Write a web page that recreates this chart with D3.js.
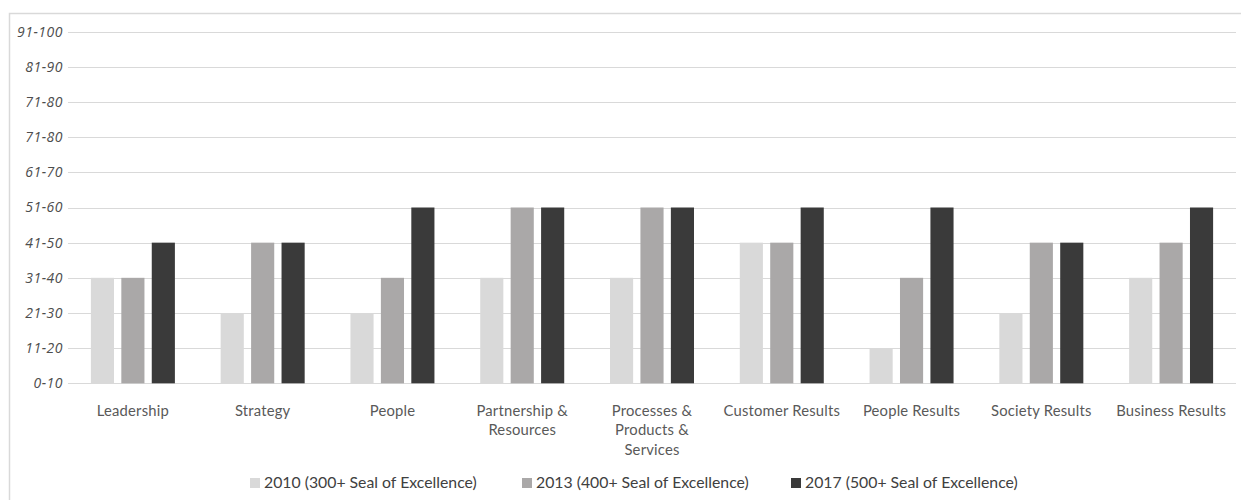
<!DOCTYPE html>
<html><head><meta charset="utf-8">
<script src="https://cdn.jsdelivr.net/npm/d3@7/dist/d3.min.js"></script>
<style>body{margin:0;background:#fff;} svg{display:block;}</style>
</head><body>
<svg id="chart" width="1241" height="500"></svg>
<script>
const categories = ["Leadership","Strategy","People","Partnership & Resources","Processes & Products & Services","Customer Results","People Results","Society Results","Business Results"];
const categoryLines = [["Leadership"],["Strategy"],["People"],["Partnership &","Resources"],["Processes &","Products &","Services"],["Customer Results"],["People Results"],["Society Results"],["Business Results"]];
const tickLabels = ["0-10","11-20","21-30","31-40","41-50","51-60","61-70","71-80","71-80","81-90","91-100"];
const seriesNames = ["2010 (300+ Seal of Excellence)","2013 (400+ Seal of Excellence)","2017 (500+ Seal of Excellence)"];
const values2010 = [3,2,2,3,3,4,1,2,3];
const values2013 = [3,4,3,5,5,4,3,4,4];
const values2017 = [4,4,5,5,5,5,5,4,5];
const colors = ["#d9d9d9","#aaa8a8","#3a3a3a"];

const series = [values2010, values2013, values2017];
const svg = d3.select("#chart");

svg.append("rect").attr("x",9.5).attr("y",13.5).attr("width",1260).attr("height",520)
  .attr("fill","none").attr("stroke","#d9d9d9").attr("stroke-width",1.5);

const x0 = d3.scaleBand().domain(categories).range([68,1236]).paddingInner(0).paddingOuter(0);
const x1 = d3.scaleBand().domain([0,1,2]).range([0, 84]).paddingInner(0.24);
const y = d3.scaleLinear().domain([0,10]).range([383.3,31.7]);

// gridlines
svg.append("g").selectAll("line").data(d3.range(0,11)).join("line")
  .attr("x1",68).attr("x2",1236)
  .attr("y1",d=>Math.round(y(d))+0.5).attr("y2",d=>Math.round(y(d))+0.5)
  .attr("stroke","#d9d9d9").attr("stroke-width",1);

// y axis
const yAxis = d3.axisLeft(y).tickValues(d3.range(0,11)).tickSize(0).tickPadding(0)
  .tickFormat(i => tickLabels[i]);
const gy = svg.append("g").attr("transform","translate(63,0)").call(yAxis);
gy.select(".domain").remove();
gy.selectAll("text").attr("font-family","'Open Sans', sans-serif").attr("font-style","italic")
  .attr("font-size","14px").attr("letter-spacing","0.5px").attr("fill","#4d4d4d");

// bars
const groupOffset = (x0.bandwidth() - 84)/2;
const g = svg.append("g");
series.forEach((vals, si) => {
  g.append("g").selectAll("rect").data(vals).join("rect")
    .attr("x",(d,i)=> x0(categories[i]) + groupOffset + x1(si))
    .attr("width", x1.bandwidth())
    .attr("y", d => y(d))
    .attr("height", d => y(0) - y(d))
    .attr("fill", colors[si]);
});

// x axis labels
const gx = svg.append("g");
categories.forEach((c,i) => {
  const t = gx.append("text")
    .attr("x", x0(c) + x0.bandwidth()/2)
    .attr("y", 416)
    .attr("text-anchor","middle")
    .attr("font-family","Lato, 'Open Sans', sans-serif")
    .attr("font-size","14.8px")
    .attr("letter-spacing","0.2px")
    .attr("fill","#595959");
  categoryLines[i].forEach((ln, li) => {
    t.append("tspan").attr("x", x0(c) + x0.bandwidth()/2).attr("dy", li===0?0:19.3).text(ln);
  });
});

// legend
const legendX = [250, 522, 791];
const lg = svg.append("g");
seriesNames.forEach((n, i) => {
  lg.append("rect").attr("x",legendX[i]).attr("y",478).attr("width",10).attr("height",10).attr("fill",colors[i]);
  lg.append("text").attr("x",legendX[i]+14).attr("y",488)
    .attr("font-family","Lato, 'Open Sans', sans-serif").attr("font-size","15.8px")
    .attr("fill","#404040").text(n);
});
</script>
</body></html>
